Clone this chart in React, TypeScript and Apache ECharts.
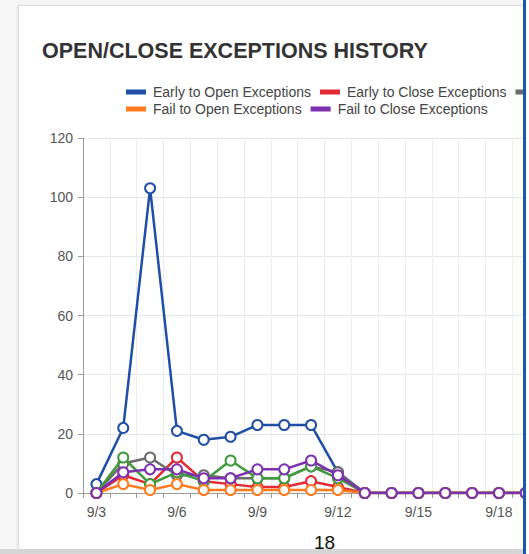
import React, { useEffect, useRef } from "react";
import * as echarts from "echarts";

const categories = [
  "9/3", "9/4", "9/5", "9/6", "9/7", "9/8", "9/9", "9/10", "9/11", "9/12", "9/13",
  "9/14", "9/15", "9/16", "9/17", "9/18", "9/19", "9/20",
];
const earlyToOpen = [3, 22, 103, 21, 18, 19, 23, 23, 23, 7, 0, 0, 0, 0, 0, 0, 0, 0];
const earlyToClose = [0, 6, 3, 12, 4, 3, 2, 2, 4, 2, 0, 0, 0, 0, 0, 0, 0, 0];
const lateToOpen = [0, 10, 12, 6, 6, 5, 5, 5, 9, 7, 0, 0, 0, 0, 0, 0, 0, 0];
const lateToClose = [0, 12, 3, 7, 4, 11, 5, 5, 9, 5, 0, 0, 0, 0, 0, 0, 0, 0];
const failToOpen = [0, 3, 1, 3, 1, 1, 1, 1, 1, 1, 0, 0, 0, 0, 0, 0, 0, 0];
const failToClose = [0, 7, 8, 8, 5, 5, 8, 8, 11, 6, 0, 0, 0, 0, 0, 0, 0, 0];

const seriesNames = [
  "Early to Open Exceptions",
  "Early to Close Exceptions",
  "Late to Open Exceptions",
  "Late to Close Exceptions",
  "Fail to Open Exceptions",
  "Fail to Close Exceptions",
];
const seriesColors = ["#1f4ea6", "#e02a34", "#6b6b6b", "#3f9a3c", "#ff7a1c", "#7d30b0"];
const seriesData = [earlyToOpen, earlyToClose, lateToOpen, lateToClose, failToOpen, failToClose];
const yTicks = { min: 0, max: 120, interval: 20 };

const FONT = "'Liberation Sans', Arial, Helvetica, sans-serif";

export default function App() {
  const ref = useRef<HTMLDivElement>(null);
  useEffect(() => {
    document.body.style.margin = "0";
    const chart = echarts.init(ref.current!, null, { renderer: "svg" });
    const legendBase = {
      left: 126,
      padding: 0,
      orient: "horizontal",
      icon: "rect",
      itemWidth: 18,
      itemHeight: 3,
      itemGap: 9,
      width: 1000,
      textStyle: { fontSize: 14, color: "#444", fontFamily: FONT, padding: [0, 0, 0, 3] },
    };
    chart.setOption({
      animation: false,
      textStyle: { fontFamily: FONT },
      title: {
        text: "OPEN/CLOSE EXCEPTIONS HISTORY",
        left: 37,
        top: 35,
        textStyle: { fontSize: 21.5, fontWeight: "bold", color: "#333", fontFamily: FONT },
      },
      legend: [
        { ...legendBase, top: 85, data: seriesNames.slice(0, 4) },
        { ...legendBase, top: 102, data: seriesNames.slice(4) },
      ],
      grid: { left: 83, top: 138, bottom: 61, width: 483, containLabel: false },
      xAxis: {
        type: "category",
        data: categories,
        boundaryGap: true,
        axisLine: { lineStyle: { color: "#9a9a9a" } },
        axisTick: { show: true, interval: 0, length: 5, lineStyle: { color: "#9a9a9a" } },
        axisLabel: { interval: 2, fontSize: 14, color: "#555", margin: 12, fontFamily: FONT },
        splitLine: { show: true, interval: 0, lineStyle: { color: "#ececec" } },
      },
      yAxis: {
        type: "value",
        min: yTicks.min,
        max: yTicks.max,
        interval: yTicks.interval,
        axisLine: { show: true, lineStyle: { color: "#9a9a9a" } },
        axisTick: { show: true, length: 5, lineStyle: { color: "#9a9a9a" } },
        axisLabel: { fontSize: 14, color: "#555", margin: 10, fontFamily: FONT },
        splitLine: { show: true, lineStyle: { color: "#e6e6e6" } },
      },
      series: seriesNames.map((name, i) => ({
        name,
        type: "line",
        data: seriesData[i],
        symbol: "emptyCircle",
        symbolSize: 10,
        showAllSymbol: true,
        lineStyle: { width: 2.5, color: seriesColors[i] },
        itemStyle: { color: seriesColors[i], borderColor: seriesColors[i], borderWidth: 2 },
        z: 2 + i,
      })),
    });
    return () => chart.dispose();
  }, []);
  return (
    <div
      style={{
        position: "fixed",
        left: 0,
        top: 0,
        width: 529,
        height: 554,
        overflow: "hidden",
        background: "#f6f6f6",
        fontFamily: FONT,
      }}
    >
      <div
        style={{
          position: "absolute",
          left: 18,
          top: 5,
          width: 720,
          height: 543,
          background: "#fff",
          border: "1px solid #dedede",
          boxShadow: "0 1px 3px rgba(0,0,0,0.12)",
        }}
      />
      <div ref={ref} style={{ position: "absolute", left: 0, top: 0, width: 720, height: 554 }} />
      <div style={{ position: "absolute", left: 0, top: 549, width: 529, height: 5, background: "#d5d5d5" }} />
      <div
        style={{
          position: "absolute",
          left: 314,
          top: 535,
          height: 16,
          fontSize: 19,
          color: "#111",
          lineHeight: "16px",
        }}
      >
        18
      </div>
      <div style={{ position: "absolute", left: 523, top: 0, width: 3, height: 554, background: "#1c58ad" }} />
      <div style={{ position: "absolute", left: 526, top: 0, width: 3, height: 554, background: "#fff" }} />
    </div>
  );
}
